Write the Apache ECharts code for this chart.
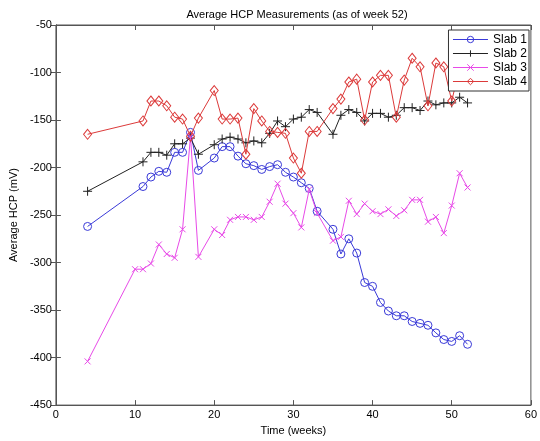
<!DOCTYPE html>
<html>
<head>
<meta charset="utf-8">
<script src="https://cdn.jsdelivr.net/npm/echarts@6/dist/echarts.min.js"></script>
<style>html,body{margin:0;padding:0;background:#fff}#c{width:540px;height:441px}</style>
</head>
<body>
<div id="c"></div>
<script>
const seriesNames = ['Slab 1', 'Slab 2', 'Slab 3', 'Slab 4'];
const xTicks = [0, 10, 20, 30, 40, 50, 60];
const yTicks = [-450, -400, -350, -300, -250, -200, -150, -100, -50];

const weeksCommon = [4, 11, 12, 13, 14, 15, 16, 17, 18, 20, 21, 22, 23, 24, 25, 26, 27, 28, 29, 30, 31, 32, 33, 35, 36, 37, 38, 39, 40, 41, 42, 43, 44, 45, 46, 47, 48, 49, 50, 51, 52];
const weeksSlab3 = [4, 10, 11, 12, 13, 14, 15, 16, 17, 18, 20, 21, 22, 23, 24, 25, 26, 27, 28, 29, 30, 31, 32, 33, 35, 36, 37, 38, 39, 40, 41, 42, 43, 44, 45, 46, 47, 48, 49, 50, 51, 52];

const slab1 = [-262, -220, -210, -204, -205, -184, -184, -163, -203, -190, -178, -178, -188, -196, -198, -202, -199, -197, -205, -210, -216, -222, -246, -265, -291, -275, -290, -321, -325, -342, -351, -356, -356, -362, -364, -366, -374, -381, -383, -377, -386];
const slab2 = [-225, -194, -184, -184, -187, -175, -175, -169, -186, -176, -170, -168, -170, -174, -172, -174, -164, -151, -157, -149, -147, -139, -142, -165, -145, -139, -142, -151, -143, -143, -147, -145, -137, -137, -140, -130, -134, -132, -132, -126, -132];
const slab3 = [-404, -307, -307, -301, -281, -291, -295, -265, -167, -294, -265, -271, -255, -252, -252, -255, -252, -236, -217, -238, -248, -263, -223, -248, -277, -273, -235, -249, -238, -246, -249, -244, -251, -245, -234, -234, -257, -252, -269, -240, -206, -221];
const slab4 = [-165, -151, -130, -130, -135, -147, -149, -167, -148, -119, -149, -149, -148, -186, -138, -151, -162, -163, -164, -190, -206, -162, -162, -138, -128, -110, -107, -150, -110, -103, -103, -147, -108, -85, -94, -135, -90, -94, -130, -95, -100];

const colors = ['#3a3ad8', '#222222', '#e84ae8', '#dc3a3a'];
const symbols = [
  'path://M0,5A5,5,0,1,1,10,5A5,5,0,1,1,0,5Z',
  'path://M5,0L5,10M0,5L10,5',
  'path://M0,0L10,10M10,0L0,10',
  'path://M5,0L9,6L5,12L1,6Z'
];
const sizes = [[8, 8], [9, 9], [6, 6], [8, 10]];

function pairs(w, v) { return w.map((x, i) => [x, v[i]]); }
const allData = [pairs(weeksCommon, slab1), pairs(weeksCommon, slab2), pairs(weeksSlab3, slab3), pairs(weeksCommon, slab4)];

const chart = echarts.init(document.getElementById('c'), null, {renderer: 'canvas'});
const font = 'Liberation Sans, Arial, sans-serif';
const axisCol = '#555';

const series = seriesNames.map((n, i) => ({
  name: n,
  type: 'line',
  data: allData[i],
  symbol: symbols[i],
  symbolSize: sizes[i],
  showAllSymbol: true,
  animation: false,
  lineStyle: {color: colors[i], width: 1},
  itemStyle: {color: 'rgba(0,0,0,0)', borderColor: colors[i], borderWidth: 1},
  emphasis: {disabled: true},
  z: 2 + i
}));

const legendData = seriesNames.map((n, i) => ({
  name: n,
  lineStyle: {color: colors[i], width: 1},
  itemStyle: {color: 'rgba(0,0,0,0)', borderColor: colors[i], borderWidth: 1}
}));

chart.setOption({
  animation: false,
  backgroundColor: '#fff',
  title: {
    text: 'Average HCP Measurements (as of week 52)',
    left: 292, top: 4, textAlign: 'center',
    textStyle: {fontFamily: font, fontSize: 11, fontWeight: 'normal', color: '#000'}
  },
  grid: {left: 51, right: 6, top: 25, bottom: 34, show: true, borderColor: axisCol, borderWidth: 1, backgroundColor: '#fff'},
  legend: {
    orient: 'vertical', right: 11, top: 30,
    data: legendData,
    backgroundColor: '#fff', borderColor: '#333', borderWidth: 1,
    padding: [3, 2, 3, 4], itemGap: 1, itemWidth: 35, itemHeight: 8,
    textStyle: {fontFamily: font, fontSize: 12, color: '#000', lineHeight: 13},
    z: 20
  },
  xAxis: [{
    type: 'value', min: xTicks[0], max: xTicks[xTicks.length - 1], interval: 10,
    name: 'Time (weeks)', nameLocation: 'middle', nameGap: 19,
    nameTextStyle: {fontFamily: font, fontSize: 11, color: '#000'},
    axisLine: {show: true, lineStyle: {color: axisCol}},
    axisTick: {show: true, inside: true, length: 5, lineStyle: {color: axisCol}},
    axisLabel: {fontFamily: font, fontSize: 11, color: '#000', margin: 4},
    splitLine: {show: false}
  }, {
    type: 'value', position: 'top', min: xTicks[0], max: xTicks[xTicks.length - 1], interval: 10,
    axisLine: {show: true, lineStyle: {color: axisCol}},
    axisTick: {show: true, inside: true, length: 5, lineStyle: {color: axisCol}},
    axisLabel: {show: false}, splitLine: {show: false}
  }],
  yAxis: [{
    type: 'value', min: yTicks[0], max: yTicks[yTicks.length - 1], interval: 50,
    name: 'Average HCP (mV)', nameLocation: 'middle', nameGap: 30, nameRotate: 90,
    nameTextStyle: {fontFamily: font, fontSize: 11, color: '#000'},
    axisLine: {show: true, lineStyle: {color: axisCol}},
    axisTick: {show: true, inside: true, length: 5, lineStyle: {color: axisCol}},
    axisLabel: {fontFamily: font, fontSize: 11, color: '#000', margin: 4},
    splitLine: {show: false}
  }, {
    type: 'value', position: 'right', min: yTicks[0], max: yTicks[yTicks.length - 1], interval: 50,
    axisLine: {show: true, lineStyle: {color: axisCol}},
    axisTick: {show: true, inside: true, length: 5, lineStyle: {color: axisCol}},
    axisLabel: {show: false}, splitLine: {show: false}
  }],
  series: series
});
</script>
</body>
</html>
